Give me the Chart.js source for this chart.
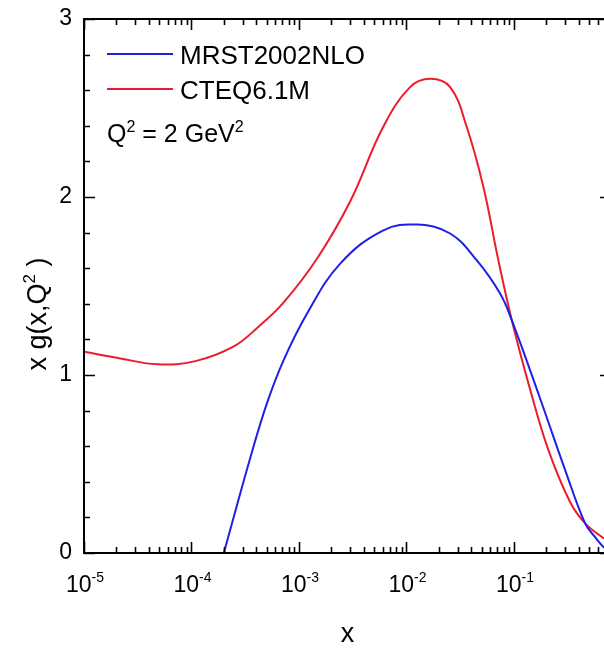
<!DOCTYPE html>
<html>
<head>
<meta charset="utf-8">
<script src="https://cdn.jsdelivr.net/npm/chart.js@4.4.1/dist/chart.umd.min.js"></script>
<style>
  html, body { margin: 0; padding: 0; background: #fff; overflow: hidden; }
  #wrap { width: 640px; height: 648px; }
</style>
</head>
<body>
<div id="wrap"><canvas id="c" width="640" height="648"></canvas></div>
<script>
// values (x on log scale)
const seriesNames = ["MRST2002NLO", "CTEQ6.1M"];
const mrstX = [2.0e-4, 3.52e-4, 5.05e-4, 7.2e-4, 1.19e-3, 2.42e-3, 6.1e-3, 0.0125, 0.0255, 0.045, 0.0743, 0.0955, 0.1745, 0.298, 0.458, 0.567, 0.673, 0.8];
const mrstY = [0.0, 0.534, 0.843, 1.084, 1.346, 1.626, 1.813, 1.845, 1.795, 1.645, 1.458, 1.308, 0.871, 0.47, 0.168, 0.09, 0.037, 0.005];
const cteqX = [1e-5, 2.18e-5, 4.82e-5, 1.09e-4, 2.45e-4, 4.18e-4, 7.14e-4, 1.48e-3, 3.0e-3, 6.07e-3, 0.0108, 0.0166, 0.0255, 0.0364, 0.052, 0.0716, 0.0955, 0.141, 0.209, 0.332, 0.458, 0.673, 0.8];
const cteqY = [1.131, 1.093, 1.06, 1.078, 1.159, 1.27, 1.405, 1.656, 1.976, 2.393, 2.617, 2.664, 2.617, 2.393, 2.056, 1.645, 1.308, 0.922, 0.579, 0.288, 0.168, 0.086, 0.06];
const xDecades = [-5, -4, -3, -2, -1];
const yTicks = [0, 1, 2, 3];

const blue = "#1f1fe6";
const red = "#ec1c2e";
const font = "'Liberation Sans', Arial, sans-serif";

const toPoints = (xs, ys) => xs.map((x, i) => ({ x: x, y: ys[i] }));

// draws text with superscript pieces, returns width
function drawParts(ctx, parts, x, y, size, measureOnly) {
  let cx = x;
  parts.forEach(p => {
    const s = p.sup ? Math.round(size * 0.62) : size;
    ctx.font = s + "px " + font;
    if (!measureOnly) ctx.fillText(p.t, cx, p.sup ? y - size * 0.42 : y);
    cx += ctx.measureText(p.t).width;
  });
  return cx - x;
}

const framePlugin = {
  id: "frame",
  afterDraw(chart) {
    const ctx = chart.ctx;
    const a = chart.chartArea;
    const xs = chart.scales.x;
    const ys = chart.scales.y;
    ctx.save();
    ctx.strokeStyle = "#000";
    ctx.fillStyle = "#000";
    ctx.lineWidth = 2;
    ctx.strokeRect(a.left, a.top, a.right - a.left, a.bottom - a.top);

    ctx.lineWidth = 1.6;
    ctx.beginPath();
    // x ticks, top and bottom, pointing inward
    for (let e = -5; e <= 0; e++) {
      for (let k = 1; k <= 9; k++) {
        const v = k * Math.pow(10, e);
        if (v < xs.min * 0.999 || v > xs.max) continue;
        const px = Math.round(xs.getPixelForValue(v)) + 0.5;
        const len = k === 1 ? 11 : 6;
        ctx.moveTo(px, a.bottom); ctx.lineTo(px, a.bottom - len);
        ctx.moveTo(px, a.top); ctx.lineTo(px, a.top + len);
      }
    }
    // y ticks, left and right
    for (let i = 0; i <= 15; i++) {
      const v = i * 0.2;
      const py = Math.round(ys.getPixelForValue(v)) + 0.5;
      const len = i % 5 === 0 ? 11 : 6;
      ctx.moveTo(a.left, py); ctx.lineTo(a.left + len, py);
      ctx.moveTo(a.right, py); ctx.lineTo(a.right - len, py);
    }
    ctx.stroke();

    // y tick labels
    ctx.font = "23px " + font;
    ctx.textAlign = "right";
    ctx.textBaseline = "middle";
    yTicks.forEach(t => ctx.fillText(String(t), a.left - 12, ys.getPixelForValue(t)));

    // x tick labels 10^n
    ctx.textAlign = "left";
    ctx.textBaseline = "alphabetic";
    xDecades.forEach(e => {
      const parts = [{ t: "10" }, { t: String(e), sup: true }];
      const w = drawParts(ctx, parts, 0, 0, 23, true);
      const px = xs.getPixelForValue(Math.pow(10, e));
      drawParts(ctx, parts, px - w / 2 + 1, 592, 23, false);
    });

    // axis titles
    ctx.font = "27px " + font;
    ctx.textAlign = "center";
    ctx.fillText("x", (a.left + a.right) / 2, 642);

    ctx.save();
    ctx.translate(46, 314);
    ctx.rotate(-Math.PI / 2);
    ctx.textAlign = "left";
    const yParts = [{ t: "x g(x,Q" }, { t: "2", sup: true }, { t: " )" }];
    const yw = drawParts(ctx, yParts, 0, 0, 27, true);
    drawParts(ctx, yParts, -yw / 2, 0, 27, false);
    ctx.restore();

    // legend
    ctx.lineWidth = 2;
    const ds = chart.data.datasets;
    [54, 89].forEach((ly, i) => {
      ctx.strokeStyle = ds[i].borderColor;
      ctx.beginPath();
      ctx.moveTo(107, ly); ctx.lineTo(173, ly);
      ctx.stroke();
      ctx.font = "26px " + font;
      ctx.textAlign = "left";
      ctx.fillText(ds[i].label, 180, ly + 10);
    });
    drawParts(ctx, [{ t: "Q" }, { t: "2", sup: true }, { t: " = 2 GeV" }, { t: "2", sup: true }], 107, 142, 25, false);

    ctx.restore();
  }
};

new Chart(document.getElementById("c"), {
  type: "line",
  data: {
    datasets: [
      {
        label: seriesNames[0],
        data: toPoints(mrstX, mrstY),
        borderColor: blue,
        borderWidth: 2,
        pointRadius: 0,
        tension: 0.4,
        fill: false,
      },
      {
        label: seriesNames[1],
        data: toPoints(cteqX, cteqY),
        borderColor: red,
        borderWidth: 2,
        pointRadius: 0,
        tension: 0.4,
        fill: false,
      },
    ],
  },
  options: {
    responsive: false,
    animation: false,
    layout: { padding: { left: 84, top: 19, right: 29, bottom: 95 } },
    scales: {
      x: { type: "logarithmic", min: 1e-5, max: 0.8, display: false },
      y: { type: "linear", min: 0, max: 3, display: false },
    },
    plugins: {
      legend: { display: false },
      tooltip: { enabled: false },
    },
  },
  plugins: [framePlugin],
});
</script>
</body>
</html>
